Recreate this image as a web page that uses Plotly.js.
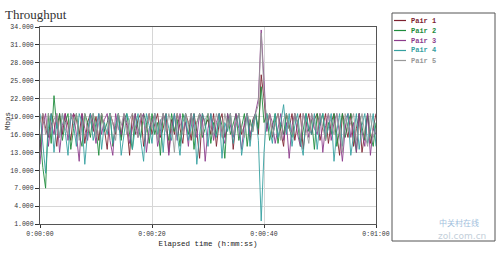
<!DOCTYPE html>
<html><head><meta charset="utf-8">
<script src="https://cdn.plot.ly/plotly-3.0.1.min.js"></script>
<style>html,body{margin:0;padding:0;background:#fff;}#chart{width:500px;height:254px;}</style>
</head><body><div id="chart"></div>
<script>
// Series: throughput (Mbps), sampled every 0.5 s from 0:00:00 to 0:01:00
const seriesNames = ["Pair 1", "Pair 2", "Pair 3", "Pair 4", "Pair 5"];
const seriesColors = ["#7d2230", "#1e8c3c", "#8c3c8c", "#36a0a0", "#999999"];
const sampleStep = 0.5;

const pair1 = [
  13, 19.5, 17, 15.5, 19.5, 18, 14, 19.5, 16, 19.5,
  17.5, 15, 19.5, 18.5, 16, 19.5, 14.5, 18, 19.5, 16.5,
  19, 15, 19.5, 17, 13.5, 19.5, 18, 16, 19.5, 15.5,
  19, 17.5, 12.5, 19.5, 16, 18.5, 19.5, 14, 17, 19.5,
  16, 18, 19.5, 15.5, 17, 19.5, 13, 18.5, 16, 19.5,
  17, 14.5, 19.5, 18, 15, 19.5, 16.5, 12, 19.5, 17.5,
  18.5, 16, 19.5, 14, 18, 19.5, 15.5, 17, 19.5, 13.5,
  18, 19.5, 16, 17.5, 19.5, 15, 18.5, 19.5, 16, 26,
  22, 17, 19.5, 15.5, 18, 19.5, 16.5, 14, 19.5, 17,
  19.5, 15, 18, 19.5, 13.5, 17.5, 19.5, 16, 18.5, 19.5,
  15, 17, 19.5, 14.5, 18, 19.5, 16, 12.5, 19.5, 17.5,
  15.5, 19.5, 14, 17, 19.5, 13, 16.5, 19.5, 14.5, 17,
  19.5
];
const pair2 = [
  16, 10.5, 7, 19.5, 14.5, 22.5, 17, 19.5, 15, 18,
  19.5, 13.5, 17, 19.5, 16, 14, 19.5, 18, 15.5, 19.5,
  17, 12.5, 19.5, 16.5, 18, 19.5, 14, 17.5, 19.5, 15,
  18.5, 19.5, 16, 13.5, 19.5, 17, 15.5, 19.5, 18, 14.5,
  19.5, 16, 18, 12.5, 19.5, 17, 15, 19.5, 16.5, 18.5,
  14, 19.5, 17.5, 16, 19.5, 13.5, 18, 19.5, 15.5, 17,
  19.5, 14.5, 18, 16, 19.5, 17.5, 12, 19.5, 16, 18,
  19.5, 15, 17, 19.5, 14, 18.5, 16.5, 19.5, 17, 24,
  18, 19.5, 15, 17.5, 19.5, 14.5, 18, 16, 19.5, 17,
  15.5, 19.5, 18, 14, 17, 19.5, 16.5, 18.5, 13.5, 19.5,
  17.5, 19.5, 15, 18, 16, 19.5, 14, 17, 19.5, 15.5,
  18, 19.5, 16.5, 13, 19.5, 17.5, 15, 19.5, 16, 14,
  18
];
const pair3 = [
  11, 17.5, 19.5, 14, 18, 16, 19.5, 13, 17.5, 19.5,
  15, 18.5, 19.5, 16, 11.5, 19.5, 17, 15, 19.5, 18,
  14.5, 19.5, 16, 18.5, 19.5, 15, 12.5, 19.5, 17, 16,
  19.5, 18, 14.5, 17, 19.5, 15.5, 18.5, 19.5, 13, 17,
  18, 19.5, 14, 16.5, 19.5, 18, 12.5, 17, 19.5, 15,
  19.5, 16.5, 18, 14, 19.5, 17, 15.5, 19.5, 18.5, 11.5,
  17, 19.5, 15, 18, 19.5, 16, 14.5, 19.5, 17.5, 15.5,
  19.5, 17, 13.5, 18, 19.5, 16, 17.5, 19.5, 22, 33.5,
  24, 16.5, 19.5, 18, 14.5, 17, 19.5, 15, 18, 12,
  17.5, 19.5, 16, 14, 19.5, 18, 15.5, 19.5, 17, 16,
  19.5, 13, 17.5, 19.5, 15, 18, 19.5, 16, 11.5, 17,
  19.5, 15.5, 18, 13, 19.5, 16.5, 14, 19.5, 12.5, 17,
  16
];
const pair4 = [
  19.5, 14.5, 9.5, 17, 19.5, 13, 18, 15.5, 19.5, 16.5,
  12.5, 19.5, 17.5, 14, 19.5, 18, 11, 16.5, 19.5, 15,
  17.5, 19.5, 13.5, 18, 16, 19.5, 14.5, 17, 19.5, 12.5,
  16.5, 19.5, 18, 13.5, 17, 19.5, 15, 11.5, 19.5, 17.5,
  14.5, 19.5, 16, 18.5, 13, 19.5, 17, 15, 19.5, 16,
  12.5, 18, 19.5, 15, 17.5, 19.5, 11, 16, 19.5, 18,
  14, 19.5, 17, 15.5, 19.5, 12, 18, 16.5, 19.5, 14.5,
  17.5, 19.5, 12.5, 16, 19.5, 14, 18, 19.5, 15, 1.5,
  13, 19.5, 17, 14.5, 19.5, 15.5, 18, 21, 16, 19.5,
  14, 17.5, 19.5, 15, 12.5, 19.5, 17, 16, 19.5, 13.5,
  18, 19.5, 15.5, 17, 19.5, 11.5, 16.5, 19.5, 14, 18.5,
  19.5, 12.5, 16, 19.5, 13.5, 17.5, 19.5, 14.5, 16.5, 19.5,
  14
];
const pair5 = [
  18, 19.5, 16, 19.5, 17, 18.5, 19.5, 15.5, 19.5, 17,
  16, 19.5, 18, 19.5, 15, 17.5, 19.5, 16.5, 18, 19.5,
  15.5, 18, 19.5, 17, 16.5, 19.5, 18, 15, 19.5, 17.5,
  19.5, 16, 18.5, 19.5, 17, 15.5, 19.5, 18, 16.5, 19.5,
  17, 19.5, 15, 18, 19.5, 16.5, 19.5, 17.5, 13, 19.5,
  18, 16, 19.5, 17.5, 19.5, 15.5, 18, 19.5, 16, 18.5,
  19.5, 17, 16, 19.5, 18, 15.5, 19.5, 17, 19.5, 16,
  18, 19.5, 17, 15.5, 19.5, 18, 16.5, 19.5, 21, 33,
  23, 18, 19.5, 16, 17.5, 19.5, 15, 18.5, 19.5, 17,
  16, 19.5, 18, 15.5, 19.5, 17, 14.5, 19.5, 18, 16.5,
  19.5, 17.5, 15, 19.5, 18, 16, 19.5, 17, 13, 19.5,
  16.5, 18, 19.5, 15, 17.5, 19.5, 16, 14, 19.5, 15.5,
  17
];
const seriesValues = [pair1, pair2, pair3, pair4, pair5];

const yTickVals = [1, 4, 7, 10, 13, 16, 19, 22, 25, 28, 31, 34];
const xTickVals = [0, 20, 40, 60];
const xTickText = ["0:00:00", "0:00:20", "0:00:40", "0:01:00"];

const mono = "Liberation Mono, DejaVu Sans Mono, monospace";

const traces = seriesValues.map((vals, i) => ({
  type: "scatter", mode: "lines",
  name: seriesNames[i],
  x0: 0, dx: sampleStep,
  y: vals,
  line: {color: seriesColors[i], width: 0.9},
  showlegend: false, hoverinfo: "skip"
}));

// plot area geometry (px) for legend placement in paper units
const plotL = 40, plotR = 376, plotT = 27, plotB = 224;
const pw = plotR - plotL, ph = plotB - plotT;
const px = x => (x - plotL) / pw;
const py = y => (plotB - y) / ph;

const shapes = [{
  type: "rect", xref: "paper", yref: "paper",
  x0: px(392), x1: px(495), y0: py(241), y1: py(13),
  line: {color: "#555", width: 1}, fillcolor: "rgba(0,0,0,0)"
}];
const annotations = [];
seriesNames.forEach((nm, i) => {
  const yy = 20.5 + i * 10;
  shapes.push({type: "line", xref: "paper", yref: "paper",
    x0: px(394), x1: px(406), y0: py(yy), y1: py(yy),
    line: {color: seriesColors[i], width: 1.2}});
  annotations.push({xref: "paper", yref: "paper", x: px(409), y: py(yy),
    xanchor: "left", yanchor: "middle", showarrow: false, text: "<b>" + nm + "</b>",
    font: {family: mono, size: 7, color: seriesColors[i]}});
});
annotations.push({xref: "paper", yref: "paper", x: px(8), y: py(121),
  textangle: -90, showarrow: false, xanchor: "center", yanchor: "middle",
  text: "Mbps", font: {family: mono, size: 7.5, color: "#222"}});
annotations.push({xref: "paper", yref: "paper", x: px(437), y: py(222),
  xanchor: "left", yanchor: "middle", showarrow: false, text: "中关村在线",
  font: {family: "Noto Sans CJK SC", size: 8, color: "#9fc0dd"}});
annotations.push({xref: "paper", yref: "paper", x: px(436), y: py(236),
  xanchor: "left", yanchor: "middle", showarrow: false, text: "zol.com.cn",
  font: {family: "DejaVu Sans", size: 9, color: "#c4cfda"}});

const layout = {
  width: 500, height: 254,
  margin: {l: plotL, r: 500 - plotR, t: plotT, b: 254 - plotB, pad: 0},
  paper_bgcolor: "#fff", plot_bgcolor: "#fff",
  title: {text: "Throughput", x: 0.01, xanchor: "left", xref: "container",
    y: 1 - 14 / 254, yanchor: "middle", yref: "container",
    font: {family: "Liberation Serif, DejaVu Serif, serif", size: 13, color: "#333"}},
  xaxis: {range: [0, 60], tickvals: xTickVals, ticktext: xTickText,
    showgrid: true, gridcolor: "#d6d6d6", gridwidth: 1, zeroline: false,
    showline: true, linecolor: "#555", linewidth: 1, mirror: true,
    ticks: "outside", ticklen: 3, tickcolor: "#333",
    tickfont: {family: mono, size: 6.5, color: "#333"},
    title: {text: "Elapsed time (h:mm:ss)", standoff: 3,
      font: {family: mono, size: 7.5, color: "#222"}}},
  yaxis: {range: [1, 34], tickvals: yTickVals, tickformat: ".3f",
    showgrid: true, gridcolor: "#d6d6d6", gridwidth: 1, zeroline: false,
    showline: true, linecolor: "#555", linewidth: 1, mirror: true,
    ticks: "outside", ticklen: 4, tickcolor: "#333",
    tickfont: {family: mono, size: 6.5, color: "#333"}},
  shapes: shapes, annotations: annotations, showlegend: false
};

Plotly.newPlot("chart", traces, layout, {staticPlot: true, displayModeBar: false});
</script></body></html>
